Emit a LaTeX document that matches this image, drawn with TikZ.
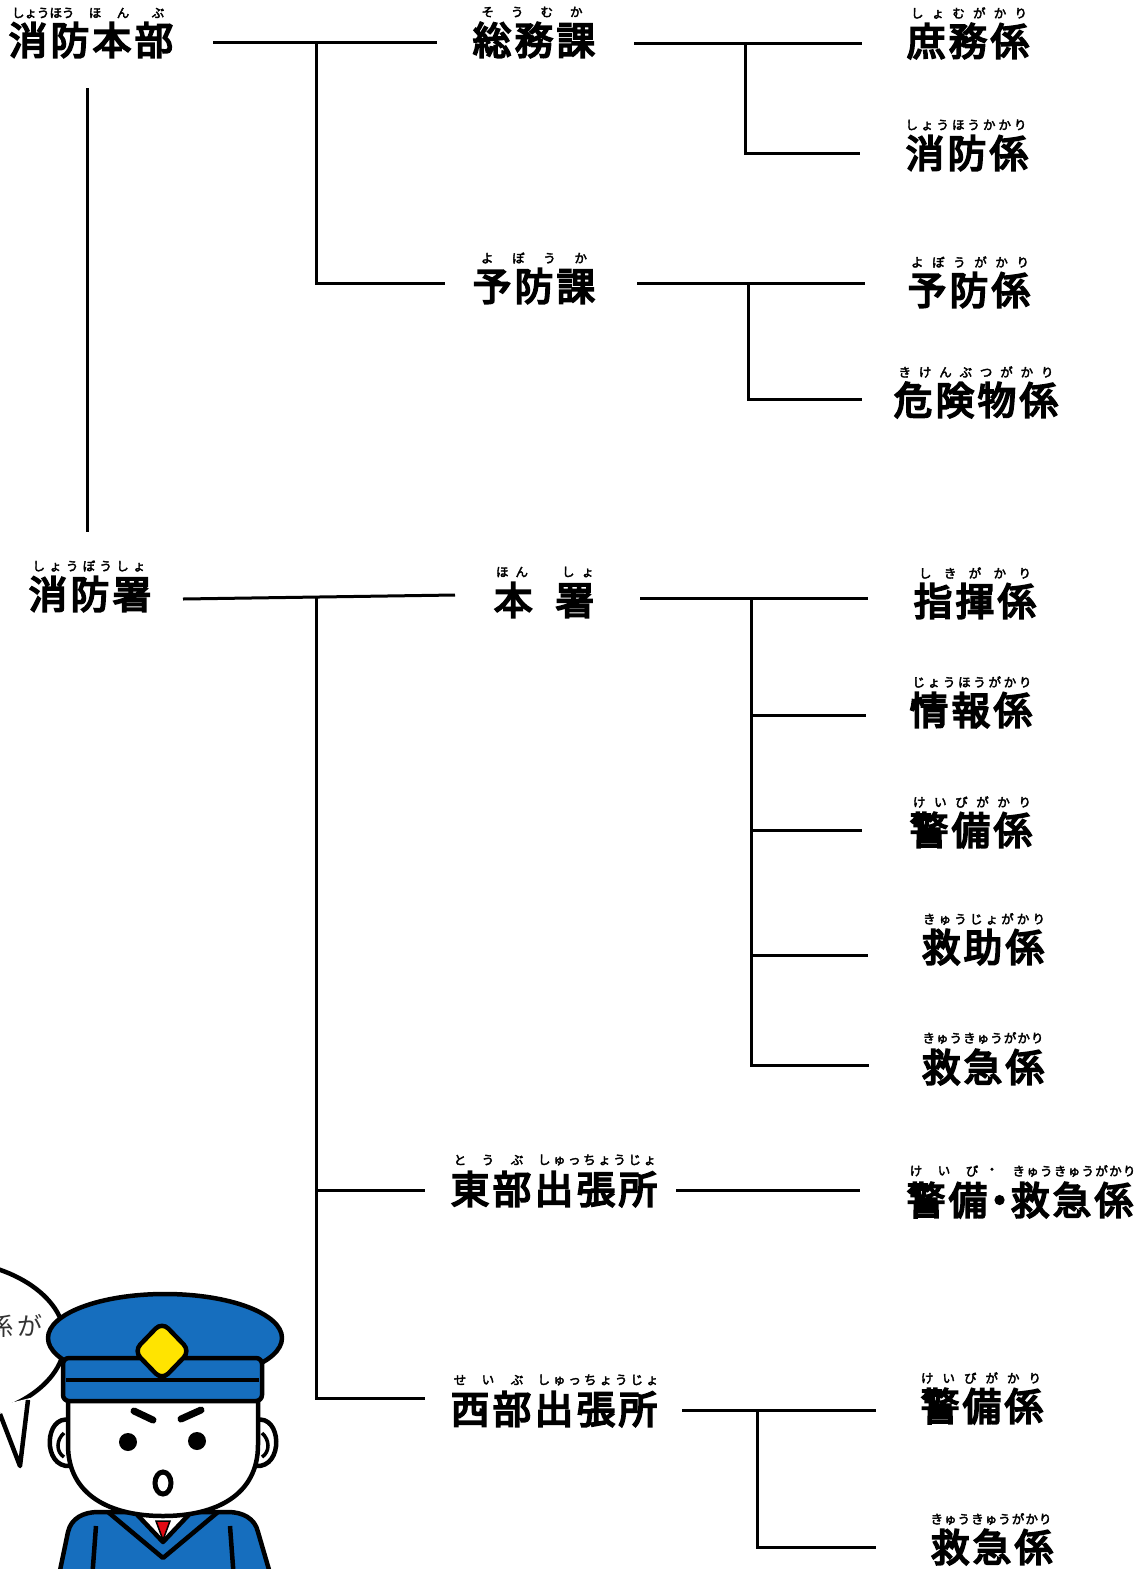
\documentclass[tikz,border=0pt]{standalone}
\usepackage{fontspec}
\newfontfamily\kanjifont[FakeBold=5,LetterSpace=9]{Noto Sans CJK JP}
\newfontfamily\kanafont[FakeBold=3]{Noto Sans CJK JP}
\newfontfamily\speechfont{Noto Sans CJK JP}
\newcommand\spreadkana[2]{\makebox[#1][s]{#2}}
\definecolor{capblue}{RGB}{22,110,190}
\definecolor{badgeyellow}{RGB}{255,228,0}
\definecolor{tiered}{RGB}{225,10,20}
\begin{document}
\begin{tikzpicture}[x=1pt,y=-1pt,
  label/.style={inner sep=0pt, font=\kanjifont\fontsize{38.5}{38.5}\selectfont},
  furi/.style={inner sep=0pt, font=\kanafont\fontsize{12.5}{12.5}\selectfont},
  link/.style={line width=3pt, line join=miter},
  ink/.style={line width=4.5pt, line join=round, draw=black}]
\useasboundingbox (0,0) rectangle (1144,1569);
\clip (0,0) rectangle (1144,1569);
\fill[white] (0,0) rectangle (1144,1569);

% ---------- unit names ----------
\node[label] (hq)      at (91,40)    {消防本部};
\node[label] (somu)    at (534,40)   {総務課};
\node[label] (shomu)   at (968,41)   {庶務係};
\node[label] (shobo)   at (967,153)  {消防係};
\node[label] (yobo)    at (534,286)  {予防課};
\node[label] (yobog)   at (969,290)  {予防係};
\node[label] (kiken)   at (976,400)  {危険物係};
\node[label] (sho)     at (90,594)   {消防署};
\node[label] (honsho)  at (544,600)  {本\hspace{23pt}署};
\node[label] (shiki)   at (975,601)  {指揮係};
\node[label] (joho)    at (971,710)  {情報係};
\node[label] (keibi)   at (971,830)  {警備係};
\node[label] (kyujo)   at (983,947)  {救助係};
\node[label] (kyukyu)  at (983,1067) {救急係};
\node[label] (east)    at (554,1189) {東部出張所};
\node[label] (ekk)     at (1020,1200){警備\kern-7pt・\kern-8pt救急係};
\node[label] (west)    at (554,1409) {西部出張所};
\node[label] (wkeibi)  at (982,1406) {警備係};
\node[label] (wkyukyu) at (992,1547) {救急係};

% ---------- readings ----------
\node[furi] (hq-r1) at (42,13)  {\spreadkana{60pt}{し\hfill ょ\hfill う\hfill ほ\hfill う}};
\node[furi] (hq-r2) at (95,13)  {ほ};
\node[furi] (hq-r3) at (123,13) {ん};
\node[furi] (hq-r4) at (158,13) {ぶ};
\node[furi] (somu-r)   at (532,12)  {\spreadkana{101pt}{そ\hfill う\hfill む\hfill か}};
\node[furi] (shomu-r)  at (969,13)  {\spreadkana{116pt}{し\hfill ょ\hfill む\hfill が\hfill か\hfill り}};
\node[furi] (shobo-r)  at (966,125) {\spreadkana{121pt}{し\hfill ょ\hfill う\hfill ほ\hfill う\hfill か\hfill か\hfill り}};
\node[furi] (yobo-r)   at (534,258) {\spreadkana{106pt}{よ\hfill ぼ\hfill う\hfill か}};
\node[furi] (yobog-r)  at (970,262) {\spreadkana{118pt}{よ\hfill ぼ\hfill う\hfill が\hfill か\hfill り}};
\node[furi] (kiken-r)  at (976,372) {\spreadkana{155pt}{き\hfill け\hfill ん\hfill ぶ\hfill つ\hfill が\hfill か\hfill り}};
\node[furi] (sho-r)    at (89,566)  {\spreadkana{113pt}{し\hfill ょ\hfill う\hfill ぼ\hfill う\hfill し\hfill ょ}};
\node[furi] (honsho-r1) at (512,572) {\spreadkana{32pt}{ほ\hfill ん}};
\node[furi] (honsho-r2) at (578,572) {\spreadkana{32pt}{し\hfill ょ}};
\node[furi] (shiki-r)  at (975,573) {\spreadkana{112pt}{し\hfill き\hfill が\hfill か\hfill り}};
\node[furi] (joho-r)   at (972,682) {\spreadkana{119pt}{じ\hfill ょ\hfill う\hfill ほ\hfill う\hfill が\hfill か\hfill り}};
\node[furi] (keibi-r)  at (972,802) {\spreadkana{118pt}{け\hfill い\hfill び\hfill が\hfill か\hfill り}};
\node[furi] (kyujo-r)  at (984,919) {\spreadkana{122pt}{き\hfill ゅ\hfill う\hfill じ\hfill ょ\hfill が\hfill か\hfill り}};
\node[furi] (kyukyu-r) at (983,1038){\spreadkana{121pt}{き\hfill ゅ\hfill う\hfill き\hfill ゅ\hfill う\hfill が\hfill か\hfill り}};
\node[furi] (east-r1) at (460,1160) {と};
\node[furi] (east-r2) at (488,1160) {う};
\node[furi] (east-r3) at (517,1160) {ぶ};
\node[furi] (east-r4) at (597,1160) {\spreadkana{118pt}{し\hfill ゅ\hfill っ\hfill ち\hfill ょ\hfill う\hfill じ\hfill ょ}};
\node[furi] (ekk-r1) at (916,1171) {け};
\node[furi] (ekk-r2) at (944,1171) {い};
\node[furi] (ekk-r3) at (972,1171) {び};
\node[furi] (ekk-r4) at (992,1171) {・};
\node[furi] (ekk-r5) at (1074,1171) {\spreadkana{123pt}{き\hfill ゅ\hfill う\hfill き\hfill ゅ\hfill う\hfill が\hfill か\hfill り}};
\node[furi] (west-r1) at (460,1380) {せ};
\node[furi] (west-r2) at (488,1380) {い};
\node[furi] (west-r3) at (517,1380) {ぶ};
\node[furi] (west-r4) at (598,1380) {\spreadkana{121pt}{し\hfill ゅ\hfill っ\hfill ち\hfill ょ\hfill う\hfill じ\hfill ょ}};
\node[furi] (wkeibi-r)  at (981,1378) {\spreadkana{120pt}{け\hfill い\hfill び\hfill が\hfill か\hfill り}};
\node[furi] (wkyukyu-r) at (991,1519) {\spreadkana{121pt}{き\hfill ゅ\hfill う\hfill き\hfill ゅ\hfill う\hfill が\hfill か\hfill り}};

% ---------- connector end points ----------
\coordinate (hq-out)     at (213,42);
\coordinate (somu-in)    at (437,42);
\coordinate (hq-fork)    at (316,42);
\coordinate (yobo-in)    at (445,283);
\coordinate (somu-out)   at (634,43);
\coordinate (shomu-in)   at (862,43);
\coordinate (somu-fork)  at (745,43);
\coordinate (shobo-in)   at (860,153);
\coordinate (yobo-out)   at (637,283);
\coordinate (yobog-in)   at (865,283);
\coordinate (yobo-fork)  at (748,283);
\coordinate (kiken-in)   at (862,399);
\coordinate (hq-down)    at (87,88);
\coordinate (sho-up)     at (87,532);
\coordinate (sho-out)    at (183,599);
\coordinate (honsho-in)  at (455,595);
\coordinate (sho-fork)   at (316,597);
\coordinate (east-in)    at (425,1190);
\coordinate (west-in)    at (425,1398);
\coordinate (honsho-out) at (640,598);
\coordinate (shiki-in)   at (868,598);
\coordinate (honsho-fork) at (751,598);
\coordinate (joho-in)    at (866,715);
\coordinate (keibi-in)   at (862,830);
\coordinate (kyujo-in)   at (868,955);
\coordinate (kyukyu-in)  at (869,1065);
\coordinate (east-out)   at (676,1190);
\coordinate (ekk-in)     at (860,1190);
\coordinate (west-out)   at (682,1410);
\coordinate (wkeibi-in)  at (876,1410);
\coordinate (west-fork)  at (757,1410);
\coordinate (wkyukyu-in) at (876,1547);

% ---------- connectors ----------
\draw[link] (hq-out) -- (somu-in);
\draw[link] (hq-fork) |- (yobo-in);
\draw[link] (somu-out) -- (shomu-in);
\draw[link] (somu-fork) |- (shobo-in);
\draw[link] (yobo-out) -- (yobog-in);
\draw[link] (yobo-fork) |- (kiken-in);
\draw[link] (hq-down) -- (sho-up);
\draw[link] (sho-out) -- (honsho-in);
\draw[link] (sho-fork) |- (west-in);
\draw[link] (sho-fork |- east-in) -- (east-in);
\draw[link] (honsho-out) -- (shiki-in);
\draw[link] (honsho-fork) |- (kyukyu-in);
\draw[link] (honsho-fork |- joho-in) -- (joho-in);
\draw[link] (honsho-fork |- keibi-in) -- (keibi-in);
\draw[link] (honsho-fork |- kyujo-in) -- (kyujo-in);
\draw[link] (east-out) -- (ekk-in);
\draw[link] (west-out) -- (wkeibi-in);
\draw[link] (west-fork) |- (wkyukyu-in);

% ---------- speech bubble ----------
\filldraw[ink, fill=white] (-60,1340) ellipse [x radius=125pt, y radius=80pt];
\fill[white] (-2,1406) -- (20,1466) -- (30,1398) -- cycle;
\draw[ink] (0,1414) -- (20,1466) -- (28,1400);
\node[inner sep=0pt, anchor=east, text=black!80,
      font=\speechfont\fontsize{25}{25}\selectfont] (bubble-text) at (43,1326) {係\hspace{4pt}が};

% ---------- officer ----------
% body
\filldraw[ink, fill=capblue] (58,1580) -- (68,1532) .. controls (71,1518) and (84,1512) .. (98,1512)
  -- (228,1512) .. controls (242,1512) and (255,1518) .. (258,1532) -- (272,1580);
\draw[ink] (96,1526) -- (92,1580);
\draw[ink] (230,1526) -- (234,1580);
\draw[ink] (108,1512) -- (163,1558) -- (218,1512);
\filldraw[ink, fill=white] (128,1505) -- (163,1542) -- (198,1505) -- cycle;
\filldraw[draw=black, line width=1.5pt, fill=tiered] (156,1521) -- (170,1521) -- (163,1540) -- cycle;
% ears
\filldraw[ink, fill=white] (70,1420) .. controls (44,1414) and (42,1468) .. (70,1466);
\draw[line width=3.5pt] (64,1433) .. controls (56,1440) and (56,1452) .. (64,1457);
\filldraw[ink, fill=white] (256,1420) .. controls (282,1414) and (284,1468) .. (256,1466);
\draw[line width=3.5pt] (262,1433) .. controls (270,1440) and (270,1452) .. (262,1457);
% face
\filldraw[ink, fill=white] (68,1390) -- (68,1445) .. controls (68,1495) and (110,1516) .. (163,1516)
  .. controls (216,1516) and (258,1495) .. (258,1445) -- (258,1390) -- cycle;
% cap
\filldraw[ink, fill=capblue] (165,1338) ellipse [x radius=117pt, y radius=44pt];
\filldraw[ink, fill=capblue, rounded corners=6pt] (63,1358) -- (262,1358) -- (262,1401) -- (63,1401) -- cycle;
\draw[line width=4pt] (66,1380) -- (259,1380);
\filldraw[ink, fill=badgeyellow, rounded corners=9pt] (162,1322) -- (190,1351) -- (162,1380) -- (134,1351) -- cycle;
% features
\draw[line width=7pt, line cap=round] (134,1411) -- (153,1420);
\draw[line width=7pt, line cap=round] (181,1419) -- (201,1410);
\fill (128,1442) circle [radius=9pt];
\fill (197,1441) circle [radius=9pt];
\draw[line width=5pt] (163,1483) ellipse [x radius=8pt, y radius=11pt];
\end{tikzpicture}
\end{document}
